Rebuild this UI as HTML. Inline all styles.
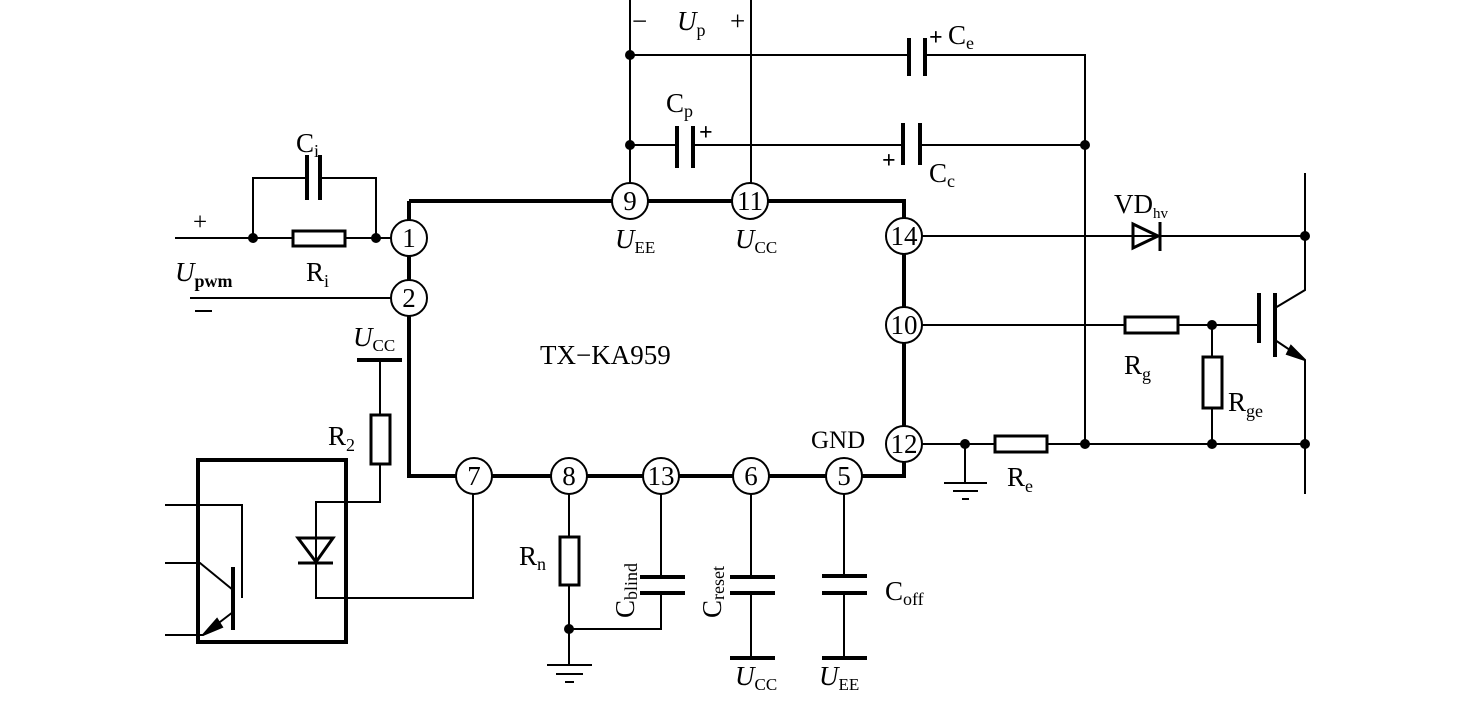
<!DOCTYPE html>
<html><head><meta charset="utf-8"><style>
html,body{margin:0;padding:0;background:#fff;}
svg{display:block}
text{font-family:"Liberation Serif",serif;fill:#000}
</style></head><body>
<svg width="1481" height="701" viewBox="0 0 1481 701" xmlns="http://www.w3.org/2000/svg">
<g stroke="#000" fill="none" stroke-width="2">
<path d="M409 201 H904 V476 M409 201 V476 H844 H904 V444" stroke-width="4"/>
<path d="M630 0 V201 M751 0 V201"/>
<path d="M630 55 H909 M927 55 H1085 V444"/>
<path d="M909 38 V76 M925 38 V76" stroke-width="4"/>
<path d="M630 145 H677 M693 145 H903 M920 145 H1085"/>
<path d="M677 126 V168 M693 126 V168 M903 123 V165 M920 123 V165" stroke-width="4"/>
<path d="M175 238 H293 M345 238 H391 M253 238 V178 H307 M320 178 H376 V238"/>
<path d="M307 155 V200 M320 155 V200" stroke-width="4"/>
<rect x="293" y="231" width="52" height="15" stroke-width="3"/>
<path d="M190 298 H391"/>
<path d="M195 311 H212"/>
<path d="M357 360 H402" stroke-width="4"/>
<path d="M380 360 V415 M380 464 V502 H316 V598 H473 V494"/>
<rect x="371" y="415" width="19" height="49" stroke-width="3"/>
<rect x="198" y="460" width="148" height="182" stroke-width="4"/>
<path d="M298 538 H333 L316 562 Z M298 563 H333" stroke-width="3"/>
<path d="M165 505 H242 V598 M165 563 H200 L233 590 M165 635 H203 L233 612"/>
<path d="M233 567 V630" stroke-width="4"/>
<path d="M203 635 L217 619 L222 627 Z" fill="#000"/>
<path d="M569 494 V537 M569 585 V665 M569 629 H661 V593 M661 494 V577"/>
<rect x="560" y="537" width="19" height="48" stroke-width="3"/>
<path d="M547 665 H592 M556 674 H583 M565 682 H574"/>
<path d="M640 577 H685 M640 593 H685 M730 577 H775 M730 593 H775 M822 576 H867 M822 593 H867" stroke-width="4"/>
<path d="M751 494 V577 M751 593 V658 M844 494 V576 M844 593 V658"/>
<path d="M730 658 H775 M822 658 H867" stroke-width="4"/>
<path d="M922 236 H1305 M922 325 H1125 M1178 325 H1258 M922 444 H995 M1047 444 H1305"/>
<path d="M1133 224 L1158 236 L1133 248 Z M1160 222 V251" stroke-width="3"/>
<rect x="1125" y="317" width="53" height="16" stroke-width="3"/>
<path d="M1212 325 V357 M1212 408 V444"/>
<rect x="1203" y="357" width="19" height="51" stroke-width="3"/>
<path d="M965 444 V483"/>
<path d="M944 483 H987 M953 491 H978 M962 499 H969" stroke-width="2"/>
<rect x="995" y="436" width="52" height="16" stroke-width="3"/>
<path d="M1305 173 V290 L1275 308 M1275 340 L1305 360 V494"/>
<path d="M1259 293 V343 M1275 293 V357" stroke-width="4"/>
<path d="M1305 360 L1291 346 L1287 354 Z" fill="#000"/>
</g>
<g fill="#000">
<circle cx="630" cy="55" r="5"/><circle cx="630" cy="145" r="5"/><circle cx="1085" cy="145" r="5"/>
<circle cx="253" cy="238" r="5"/><circle cx="376" cy="238" r="5"/>
<circle cx="569" cy="629" r="5"/>
<circle cx="1305" cy="236" r="5"/><circle cx="1212" cy="325" r="5"/><circle cx="965" cy="444" r="5"/>
<circle cx="1085" cy="444" r="5"/><circle cx="1212" cy="444" r="5"/><circle cx="1305" cy="444" r="5"/>
</g>
<g stroke="#000" stroke-width="2" fill="#fff">
<circle cx="409" cy="238" r="18"/><circle cx="409" cy="298" r="18"/>
<circle cx="630" cy="201" r="18"/><circle cx="750" cy="201" r="18"/>
<circle cx="904" cy="236" r="18"/><circle cx="904" cy="325" r="18"/><circle cx="904" cy="444" r="18"/>
<circle cx="474" cy="476" r="18"/><circle cx="569" cy="476" r="18"/><circle cx="661" cy="476" r="18"/>
<circle cx="751" cy="476" r="18"/><circle cx="844" cy="476" r="18"/>
</g>
<g font-size="27" text-anchor="middle">
<text x="409" y="247">1</text><text x="409" y="307">2</text>
<text x="630" y="210">9</text><text x="750" y="210">11</text>
<text x="904" y="245">14</text><text x="904" y="334">10</text><text x="904" y="453">12</text>
<text x="474" y="485">7</text><text x="569" y="485">8</text><text x="661" y="485">13</text>
<text x="751" y="485">6</text><text x="844" y="485">5</text>
</g>
<g font-size="27">
<text x="540" y="364">TX−KA959</text>
<text x="811" y="448" font-size="25">GND</text>
<text x="632" y="30">−</text>
<text x="677" y="30" font-style="italic">U<tspan font-size="18" font-style="normal" dy="6">p</tspan></text>
<text x="730" y="30">+</text>
<text x="929" y="45" font-weight="bold" font-size="24">+</text><text x="948" y="44">C<tspan font-size="18" dy="5">e</tspan></text>
<text x="666" y="112">C<tspan font-size="18" dy="5">p</tspan></text><text x="699" y="140" font-weight="bold" font-size="24">+</text>
<text x="882" y="168" font-weight="bold" font-size="24">+</text><text x="929" y="182">C<tspan font-size="18" dy="5">c</tspan></text>
<text x="296" y="152">C<tspan font-size="18" dy="5">i</tspan></text>
<text x="193" y="230" font-size="25">+</text>
<text x="175" y="281" font-style="italic">U<tspan font-size="18" font-style="normal" dy="6" font-weight="bold">pwm</tspan></text>
<text x="306" y="281">R<tspan font-size="18" dy="6">i</tspan></text>
<text x="615" y="248" font-style="italic">U<tspan font-size="17" font-style="normal" dy="5">EE</tspan></text>
<text x="735" y="248" font-style="italic">U<tspan font-size="17" font-style="normal" dy="5">CC</tspan></text>
<text x="353" y="346" font-style="italic">U<tspan font-size="17" font-style="normal" dy="5">CC</tspan></text>
<text x="328" y="445">R<tspan font-size="18" dy="6">2</tspan></text>
<text x="519" y="565">R<tspan font-size="18" dy="5">n</tspan></text>
<text transform="translate(634,618) rotate(-90)">C<tspan font-size="18" dy="3">blind</tspan></text>
<text transform="translate(721,618) rotate(-90)">C<tspan font-size="18" dy="3">reset</tspan></text>
<text x="885" y="600">C<tspan font-size="18" dy="5">off</tspan></text>
<text x="735" y="685" font-style="italic">U<tspan font-size="17" font-style="normal" dy="5">CC</tspan></text>
<text x="819" y="685" font-style="italic">U<tspan font-size="17" font-style="normal" dy="5">EE</tspan></text>
<text x="1114" y="213">VD<tspan font-size="15" dy="5">hv</tspan></text>
<text x="1124" y="374">R<tspan font-size="18" dy="6">g</tspan></text>
<text x="1228" y="411">R<tspan font-size="18" dy="6">ge</tspan></text>
<text x="1007" y="486">R<tspan font-size="18" dy="6">e</tspan></text>
</g>
</svg>
</body></html>
